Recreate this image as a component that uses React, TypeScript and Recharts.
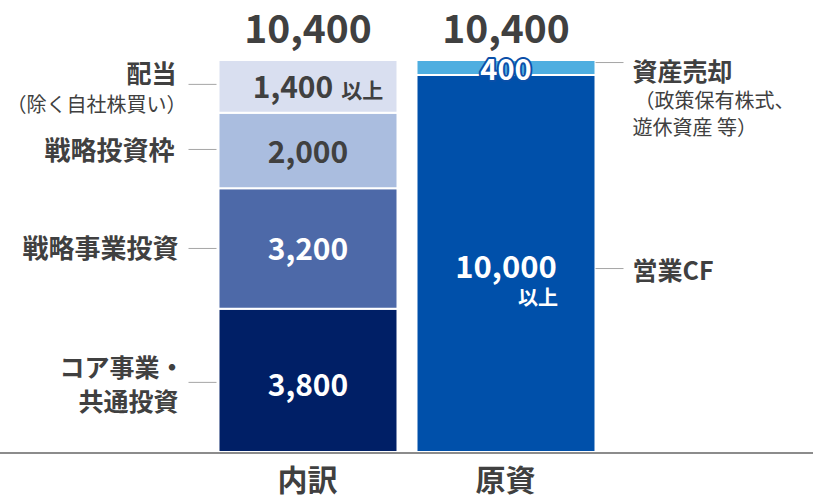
import React from "react";
import {
  BarChart,
  Bar,
  XAxis,
  YAxis,
  LabelList,
  ReferenceLine,
} from "recharts";

const categories = ["内訳", "原資"];
const coreInvest = [3800, 0];
const strategicBiz = [3200, 0];
const strategicFrame = [2000, 0];
const dividend = [1400, 0];
const operatingCF = [0, 10000];
const assetSale = [0, 400];
const totals = [10400, 10400];

const data = categories.map((name, i) => ({
  name,
  coreInvest: coreInvest[i],
  strategicBiz: strategicBiz[i],
  strategicFrame: strategicFrame[i],
  dividend: dividend[i],
  operatingCF: operatingCF[i],
  assetSale: assetSale[i],
}));

const FONT = "'Noto Sans CJK JP', 'Noto Sans', sans-serif";
const INK = "#404040";
const LEADER = "#a6a6a6";

const fmt = (v: number) => v.toLocaleString("en-US");

// which category a label belongs to; index from LabelList skips empty bars
function idx(p: any, arr: number[]) {
  const n = categories.indexOf(p.payload?.name);
  if (n >= 0) return n;
  const v = Array.isArray(p.value) ? p.value[1] - p.value[0] : Number(p.value);
  const k = v ? arr.indexOf(v) : -1;
  if (k >= 0) return k;
  return typeof p.index === "number" ? p.index : 0;
}

function box(p: any) {
  const vb = p.viewBox ?? p;
  const h = Math.abs(vb.height);
  const y = Math.min(vb.y, vb.y + vb.height);
  return { x: vb.x, y, w: vb.width, h, cx: vb.x + vb.width / 2, cy: y + h / 2 };
}

function LeftNote({ x, ly, lines }: { x: number; ly: number; lines: [string, number, number, boolean, number][] }) {
  return (
    <g>
      <line x1={x - 30} x2={x - 2} y1={ly} y2={ly} stroke={LEADER} strokeWidth={1} />
      {lines.map(([t, y, size, bold, dx], k) => (
        <text key={k} x={x - 40 + dx} y={y} textAnchor="end" fontSize={size}
          fontWeight={bold ? 700 : 400} fill={INK} fontFamily={FONT}>
          {t}
        </text>
      ))}
    </g>
  );
}

function RightNote({ x, ly, lines }: { x: number; ly: number; lines: [string, number, number, boolean, number][] }) {
  return (
    <g>
      <line x1={x} x2={x + 28} y1={ly} y2={ly} stroke={LEADER} strokeWidth={1} />
      {lines.map(([t, y, size, bold, dx], k) => (
        <text key={k} x={x + 37 + dx} y={y} fontSize={size} fontWeight={bold ? 700 : 400}
          fill={INK} fontFamily={FONT}>
          {t}
        </text>
      ))}
    </g>
  );
}

function Total({ cx, top, i }: { cx: number; top: number; i: number }) {
  return (
    <text x={cx} y={top - 17} textAnchor="middle" fontSize={39} fontWeight={700} fill={INK} fontFamily={FONT}>
      {fmt(totals[i])}
    </text>
  );
}

const coreLabel = (p: any) => {
  const i = idx(p, coreInvest);
  if (!coreInvest[i]) return null;
  const b = box(p);
  return (
    <g>
      <text x={b.cx} y={b.cy + 16} textAnchor="middle" fontSize={30} fontWeight={700} fill="#fff" fontFamily={FONT}>
        {fmt(coreInvest[i])}
      </text>
      <LeftNote x={b.x} ly={b.cy + 2} lines={[["コア事業・", b.cy - 3, 25, true, 6], ["共通投資", b.cy + 31, 25, true, 0]]} />
    </g>
  );
};

const bizLabel = (p: any) => {
  const i = idx(p, strategicBiz);
  if (!strategicBiz[i]) return null;
  const b = box(p);
  return (
    <g>
      <text x={b.cx} y={b.cy + 12} textAnchor="middle" fontSize={30} fontWeight={700} fill="#fff" fontFamily={FONT}>
        {fmt(strategicBiz[i])}
      </text>
      <LeftNote x={b.x} ly={b.cy} lines={[["戦略事業投資", b.cy + 10, 26, true, 0]]} />
    </g>
  );
};

const frameLabel = (p: any) => {
  const i = idx(p, strategicFrame);
  if (!strategicFrame[i]) return null;
  const b = box(p);
  return (
    <g>
      <text x={b.cx} y={b.cy + 13} textAnchor="middle" fontSize={30} fontWeight={700} fill={INK} fontFamily={FONT}>
        {fmt(strategicFrame[i])}
      </text>
      <LeftNote x={b.x} ly={b.cy - 1} lines={[["戦略投資枠", b.cy + 10, 26, true, -4]]} />
    </g>
  );
};

const dividendLabel = (p: any) => {
  const i = idx(p, dividend);
  if (!dividend[i]) return null;
  const b = box(p);
  return (
    <g>
      <text x={b.cx + 10} y={b.cy + 12} textAnchor="middle" fill={INK} fontFamily={FONT} fontWeight={700}>
        <tspan fontSize={30}>{fmt(dividend[i])}</tspan>
        <tspan fontSize={21} dx={8}>以上</tspan>
      </text>
      <LeftNote x={b.x} ly={b.cy - 2} lines={[["配当", b.cy - 3, 25, true, -2], ["（除く自社株買い）", b.cy + 26, 20, false, 8]]} />
      <Total cx={b.cx} top={b.y} i={i} />
    </g>
  );
};

const cfLabel = (p: any) => {
  const i = idx(p, operatingCF);
  if (!operatingCF[i]) return null;
  const b = box(p);
  return (
    <g>
      <text x={b.cx} y={b.cy + 14} textAnchor="middle" fontSize={31} fontWeight={700} fill="#fff" fontFamily={FONT}>
        {fmt(operatingCF[i])}
      </text>
      <text x={b.cx + 32} y={b.cy + 41} textAnchor="middle" fontSize={20} fontWeight={700} fill="#fff" fontFamily={FONT}>
        以上
      </text>
      <RightNote x={b.x + b.w} ly={b.cy + 5} lines={[["営業CF", b.cy + 16, 25, true, 0]]} />
    </g>
  );
};

const saleLabel = (p: any) => {
  const i = idx(p, assetSale);
  if (!assetSale[i]) return null;
  const b = box(p);
  return (
    <g>
      <text x={b.cx} y={b.cy + 12} textAnchor="middle" fontSize={29} fontWeight={700} fill="#fff"
        stroke="#0a4fa8" strokeWidth={4} paintOrder="stroke" strokeLinejoin="round" fontFamily={FONT}>
        {fmt(assetSale[i])}
      </text>
      <RightNote
        x={b.x + b.w}
        ly={b.cy - 5}
        lines={[
          ["資産売却", b.cy + 13, 25, true, 0],
          ["（政策保有株式、", b.cy + 40, 20, false, 2],
          ["遊休資産 等）", b.cy + 67, 20, false, 0],
        ]}
      />
      <Total cx={b.cx} top={b.y} i={i} />
    </g>
  );
};

const CategoryTick = (props: any) => {
  const { x, y, payload } = props;
  return (
    <text x={x} y={y + 31} textAnchor="middle" fontSize={30} fontWeight={700} fill={INK} fontFamily={FONT}>
      {payload.value}
    </text>
  );
};

const Baseline = (props: any) => (
  <line x1={0} x2={813} y1={props.y1 + 1} y2={props.y1 + 1} stroke="#8c8c8c" strokeWidth={2} />
);

export default function App() {
  return (
    <div style={{ position: "absolute", left: 0, top: 0, width: 813, height: 497, background: "#fff" }}>
      <BarChart
        width={813}
        height={497}
        data={data}
        margin={{ top: 60, right: 208.5, left: 208.5, bottom: 0 }}
        barSize={179}
      >
        <XAxis dataKey="name" axisLine={false} tickLine={false} height={45} tick={<CategoryTick />} interval={0} />
        <YAxis type="number" domain={[0, 10400]} allowDataOverflow hide />
        <Bar dataKey="coreInvest" stackId="a" fill="#001f66" stroke="#fff" strokeWidth={2} isAnimationActive={false}>
          <LabelList dataKey="coreInvest" content={coreLabel} />
        </Bar>
        <Bar dataKey="strategicBiz" stackId="a" fill="#4d69a8" stroke="#fff" strokeWidth={2} isAnimationActive={false}>
          <LabelList dataKey="strategicBiz" content={bizLabel} />
        </Bar>
        <Bar dataKey="strategicFrame" stackId="a" fill="#aabddf" stroke="#fff" strokeWidth={2} isAnimationActive={false}>
          <LabelList dataKey="strategicFrame" content={frameLabel} />
        </Bar>
        <Bar dataKey="dividend" stackId="a" fill="#d9dff0" stroke="#fff" strokeWidth={2} isAnimationActive={false}>
          <LabelList dataKey="dividend" content={dividendLabel} />
        </Bar>
        <Bar dataKey="operatingCF" stackId="a" fill="#0050aa" stroke="#fff" strokeWidth={2} isAnimationActive={false}>
          <LabelList dataKey="operatingCF" content={cfLabel} />
        </Bar>
        <Bar dataKey="assetSale" stackId="a" fill="#4eaee0" stroke="#fff" strokeWidth={2} isAnimationActive={false}>
          <LabelList dataKey="assetSale" content={saleLabel} />
        </Bar>
        <ReferenceLine y={0} shape={<Baseline />} ifOverflow="visible" />
      </BarChart>
    </div>
  );
}
